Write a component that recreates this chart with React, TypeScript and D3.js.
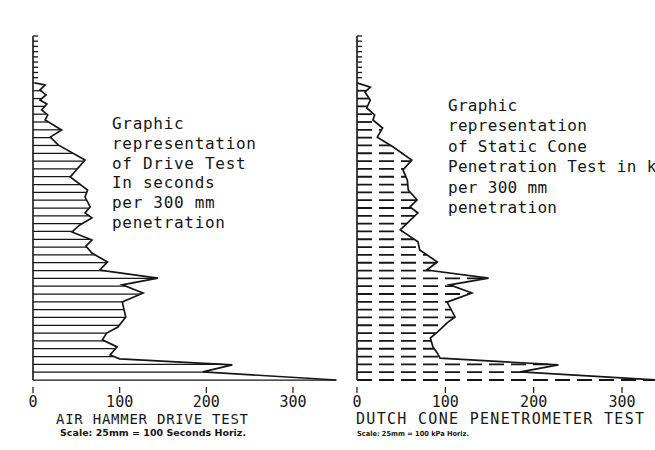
import React from "react";
import * as d3 from "d3";

// Depth (m) and value pairs
const driveDepth = [1.8, 1.88, 2.07, 2.26, 2.46, 2.61, 2.84, 3.03, 3.22, 3.61, 3.88, 4.18, 4.76, 5.41, 5.91, 6.18, 6.56, 6.79, 6.98, 7.25, 7.52, 7.83, 8.06, 8.33, 8.67, 8.98, 9.29, 9.55, 9.86, 10.21, 10.78, 11.17, 11.4, 11.66, 11.93, 12.24, 12.39, 12.62, 12.89, 13.2];
const driveSeconds = [2, 14, 8, 15, 8, 16, 10, 17, 14, 33, 20, 29, 60, 43, 63, 60, 66, 60, 68, 54, 45, 68, 61, 68, 86, 77, 144, 103, 127, 103, 107, 98, 85, 80, 97, 89, 100, 230, 196, 350];

const coneDepth = [1.8, 1.96, 2.15, 2.46, 2.76, 3.03, 3.22, 3.53, 3.88, 4.26, 4.76, 5.14, 5.53, 5.91, 6.29, 6.56, 6.79, 7.44, 7.9, 8.21, 8.67, 8.98, 9.29, 9.55, 9.86, 10.21, 10.78, 11.01, 11.36, 11.59, 11.93, 12.17, 12.36, 12.62, 12.89, 13.2];
const coneKPa = [0, 15, 9, 15, 11, 20, 18, 29, 23, 41, 62, 52, 57, 58, 68, 60, 69, 49, 69, 71, 91, 79, 149, 105, 130, 102, 111, 102, 91, 83, 86, 91, 94, 228, 185, 340];

const xTicks = [0, 100, 200, 300];
const topTickDepths = [0, 0.2, 0.4, 0.6, 0.8, 1.0, 1.2, 1.4, 1.6];
const hatchStart = 1.8;
const hatchStep = 0.3;
const hatchCount = 39;

const leftNote = ["Graphic", "representation", "of Drive Test", "In seconds", "per 300 mm", "penetration"];
const rightNote = ["Graphic", "representation", "of Static Cone", "Penetration Test in kPa", "per 300 mm", "penetration"];

const INK = "#161616";
const LETTER = "'DejaVu Sans Mono', 'DejaVu Sans', sans-serif";

const y = d3.scaleLinear().domain([0, 13.2]).range([36, 380]);
const hatchDepths = d3.range(hatchCount).map((i) => hatchStart + i * hatchStep);

type PanelProps = {
  x0: number;
  x300: number;
  depths: number[];
  values: number[];
  dashed: boolean;
  title: string;
  titleX: number;
  titleLen: number;
  titleSize: number;
  scale: string;
  scaleX: number;
  scaleLen: number;
  scaleSize: number;
  note: string[];
  noteX: number;
  noteY0: number;
  noteStep: number;
  noteSpacing: number;
};

function Panel(p: PanelProps) {
  const x = d3.scaleLinear().domain([0, 300]).range([p.x0, p.x300]);
  const profile = d3.scaleLinear().domain(p.depths).range(p.values).clamp(true);
  const line = d3
    .line<number>()
    .x((_, i) => x(p.values[i]))
    .y((d) => y(d));
  return (
    <g>
      {/* axis */}
      <line x1={x(0)} x2={x(0)} y1={y(0)} y2={y(13.2)} stroke={INK} strokeWidth={1.6} />
      {topTickDepths.map((d) => (
        <line key={"t" + d} x1={x(0)} x2={x(0) + 5} y1={y(d)} y2={y(d)} stroke={INK} strokeWidth={1.3} />
      ))}
      {/* hatching */}
      {hatchDepths.map((d, i) => (
        <line
          key={"h" + i}
          x1={x(0)}
          x2={x(profile(d))}
          y1={y(d)}
          y2={y(d)}
          stroke={INK}
          strokeWidth={p.dashed ? 1.8 : 1.25}
          strokeDasharray={p.dashed ? "15,7" : undefined}
        />
      ))}
      {/* profile */}
      <path d={line(p.depths) || ""} fill="none" stroke={INK} strokeWidth={1.7} strokeLinejoin="miter" />
      {/* x ticks */}
      {xTicks.map((t) => (
        <g key={"x" + t}>
          <line x1={x(t)} x2={x(t)} y1={387} y2={393} stroke={INK} strokeWidth={1.2} />
          <text x={x(t)} y={407} textAnchor="middle" fontFamily={LETTER} fontSize={15} fill={INK}>
            {t}
          </text>
        </g>
      ))}
      <text x={p.titleX} y={424} fontFamily={LETTER} fontSize={p.titleSize} fill={INK} textLength={p.titleLen} lengthAdjust="spacing">
        {p.title}
      </text>
      <text x={p.scaleX} y={436} fontFamily="'DejaVu Sans', sans-serif" fontWeight="bold" fontSize={p.scaleSize} fill={INK} textLength={p.scaleLen} lengthAdjust="spacingAndGlyphs">
        {p.scale}
      </text>
      {p.note.map((s, i) => (
        <text key={"n" + i} x={p.noteX} y={p.noteY0 + i * p.noteStep} fontFamily={LETTER} fontSize={16} letterSpacing={p.noteSpacing} fill={INK}>
          {s}
        </text>
      ))}
    </g>
  );
}

export default function App() {
  return (
    <svg width={655} height={450} style={{ position: "absolute", left: 0, top: 0, background: "#fff" }}>
      <rect width={655} height={450} fill="#fff" />
      <Panel
        x0={33}
        x300={293}
        depths={driveDepth}
        values={driveSeconds}
        dashed={false}
        title="AIR HAMMER DRIVE TEST"
        titleX={56}
        titleLen={192}
        titleSize={14}
        scale="Scale: 25mm = 100 Seconds Horiz."
        scaleX={60}
        scaleLen={186}
        scaleSize={9}
        note={leftNote}
        noteX={112}
        noteY0={129}
        noteStep={19.8}
        noteSpacing={0.7}
      />
      <Panel
        x0={357}
        x300={622}
        depths={coneDepth}
        values={coneKPa}
        dashed={true}
        title="DUTCH CONE PENETROMETER TEST"
        titleX={356}
        titleLen={288}
        titleSize={15}
        scale="Scale: 25mm = 100 kPa Horiz."
        scaleX={357}
        scaleLen={112}
        scaleSize={7}
        note={rightNote}
        noteX={448}
        noteY0={111}
        noteStep={20.4}
        noteSpacing={0.3}
      />
    </svg>
  );
}
